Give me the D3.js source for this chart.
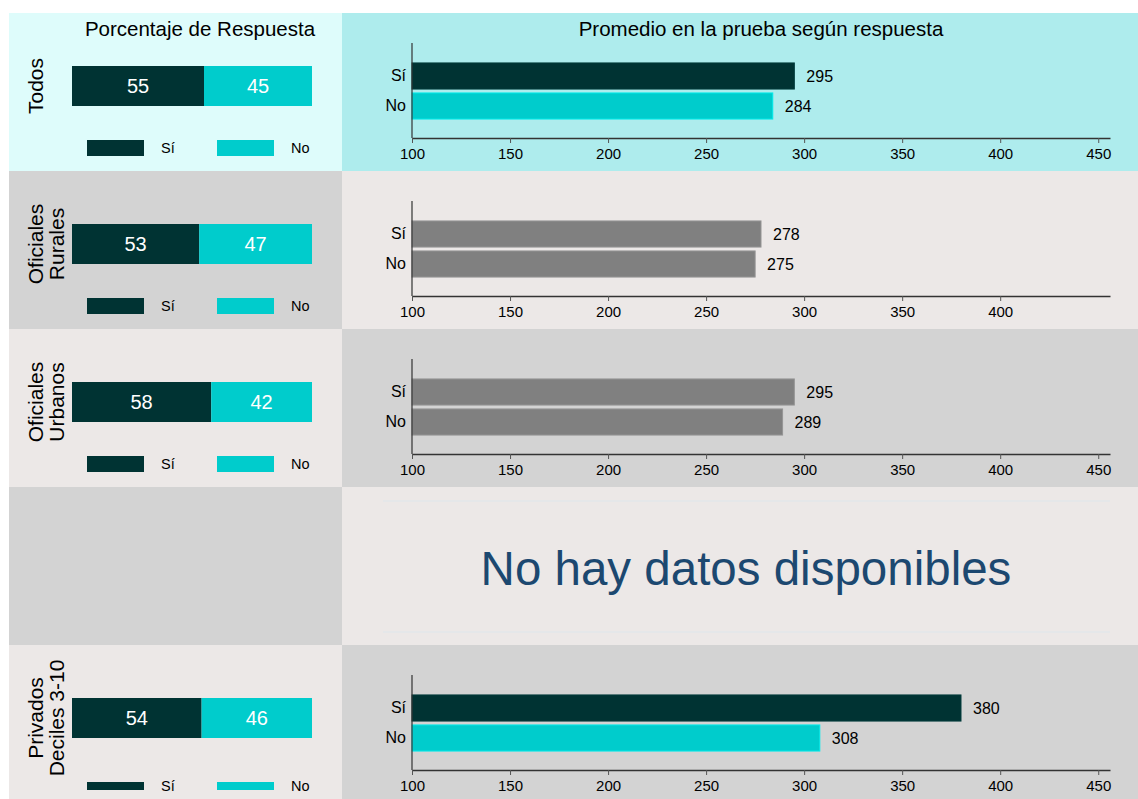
<!DOCTYPE html>
<html>
<head>
<meta charset="utf-8">
<script src="https://cdn.jsdelivr.net/npm/d3@7"></script>
<style>
  body { margin: 0; background: #fff; }
  text { font-family: "Liberation Sans", Arial, sans-serif; }
</style>
</head>
<body>
<script>
var w = 1138;
var h = 799;

// data
var groupLabels = [["Todos"], ["Oficiales", "Rurales"], ["Oficiales", "Urbanos"], [], ["Privados", "Deciles 3-10"]];
var responses = ["Sí", "No"];
var pctSi = [55, 53, 58, null, 54];
var pctNo = [45, 47, 42, null, 46];
var scoreSi = [295, 278, 295, null, 380];
var scoreNo = [284, 275, 289, null, 308];
var xTicks = [100, 150, 200, 250, 300, 350, 400, 450];
var lastTick = [450, 400, 450, null, 450];
var noDataText = "No hay datos disponibles";

// styles
var leftBg = ["#defcfb", "#d3d3d3", "#ece8e7", "#d3d3d3", "#ece8e7"];
var rightBg = ["#aeeced", "#ece8e7", "#d3d3d3", "#ece8e7", "#d3d3d3"];
var colored = [true, false, false, false, true];
var dark = "#003333", cyan = "#00cccc", gray = "#808080";

var rowTop = 13, rowH = 158, leftX = 9, splitX = 342;

var svg = d3.select("body").append("svg")
    .attr("width", w)
    .attr("height", h);

var xScale = d3.scaleLinear().domain([100, 456]).range([412, 1110]);
var pScale = d3.scaleLinear().domain([0, 100]).range([72, 312]);

groupLabels.forEach(function(lab, i) {
  var top = rowTop + i * rowH;
  var ph = Math.min(rowH, h - top);
  var g = svg.append("g").attr("transform", "translate(0," + top + ")");

  g.append("rect").attr("x", leftX).attr("y", 0).attr("width", splitX - leftX).attr("height", ph)
    .attr("fill", leftBg[i]);
  g.append("rect").attr("x", splitX).attr("y", 0).attr("width", w - splitX).attr("height", ph)
    .attr("fill", rightBg[i]);

  if (pctSi[i] == null) {
    g.append("line").attr("x1", 383).attr("x2", 1110).attr("y1", 14).attr("y2", 14)
      .attr("stroke", "#e3e7ea").attr("stroke-width", 1.5);
    g.append("line").attr("x1", 383).attr("x2", 1110).attr("y1", 145).attr("y2", 145)
      .attr("stroke", "#e3e7ea").attr("stroke-width", 1.5);
    g.append("text").attr("x", 746).attr("y", 81)
      .attr("text-anchor", "middle").attr("dominant-baseline", "central")
      .style("font-size", "47.5px").attr("fill", "#1c4870")
      .text(noDataText);
    return;
  }

  // left: stacked percentage bar
  var barY = 53, barH = 40;
  var segs = [
    { v0: 0, v1: pctSi[i], c: dark },
    { v0: pctSi[i], v1: pctSi[i] + pctNo[i], c: cyan }
  ];
  g.selectAll("rect.seg").data(segs).enter().append("rect")
    .attr("class", "seg")
    .attr("x", function(d) { return pScale(d.v0); })
    .attr("y", barY)
    .attr("width", function(d) { return pScale(d.v1) - pScale(d.v0); })
    .attr("height", barH)
    .attr("fill", function(d) { return d.c; });
  g.selectAll("text.seg").data(segs).enter().append("text")
    .attr("class", "seg")
    .attr("x", function(d) { return (pScale(d.v0) + pScale(d.v1)) / 2; })
    .attr("y", barY + barH / 2)
    .attr("text-anchor", "middle").attr("dominant-baseline", "central")
    .attr("fill", "#fff").style("font-size", "20px")
    .text(function(d) { return d.v1 - d.v0; });

  // row label
  var cy = barY + barH / 2;
  lab.forEach(function(line, k) {
    g.append("text")
      .attr("transform", "translate(" + (35 + k * 21) + "," + cy + ") rotate(-90)")
      .attr("text-anchor", "middle").attr("dominant-baseline", "central")
      .style("font-size", "21px").attr("fill", "#000")
      .text(line);
  });

  // legend
  var last = (i === groupLabels.length - 1);
  var ly = last ? 137 : 127, lh = last ? 8 : 16;
  [[dark, "Sí", 87, 161], [cyan, "No", 217, 291]].forEach(function(it) {
    g.append("rect").attr("x", it[2]).attr("y", ly).attr("width", 57).attr("height", lh).attr("fill", it[0]);
    g.append("text").attr("x", it[3]).attr("y", ly + lh / 2)
      .attr("dominant-baseline", "central").style("font-size", "14.5px").attr("fill", "#000")
      .text(it[1]);
  });

  // right: score bars
  var yScale = d3.scaleBand().domain(responses).range([48, 108]).paddingInner(0.13).paddingOuter(0.065);
  var vals = [scoreSi[i], scoreNo[i]];
  var cols = colored[i] ? [dark, cyan] : [gray, gray];
  var axisY = 125;

  g.selectAll("rect.score").data(vals).enter().append("rect")
    .attr("class", "score")
    .attr("x", xScale(100))
    .attr("y", function(d, j) { return yScale(responses[j]); })
    .attr("width", function(d) { return xScale(d) - xScale(100); })
    .attr("height", yScale.bandwidth())
    .attr("fill", function(d, j) { return cols[j]; })
    .attr("stroke", function(d, j) { return d3.color(cols[j]).brighter(0.4); })
    .attr("stroke-width", 1);
  g.selectAll("text.score").data(vals).enter().append("text")
    .attr("class", "score")
    .attr("x", function(d) { return xScale(d) + 12; })
    .attr("y", function(d, j) { return yScale(responses[j]) + yScale.bandwidth() / 2; })
    .attr("dominant-baseline", "central").style("font-size", "16px").attr("fill", "#000")
    .text(function(d) { return d; });

  var yAxis = d3.axisLeft(yScale).tickSize(0).tickPadding(6);
  var ya = g.append("g").attr("transform", "translate(" + xScale(100) + ",0)").call(yAxis);
  ya.select(".domain").remove();
  ya.selectAll("text").style("font-size", "16px").attr("fill", "#000")
    .style("font-family", "Liberation Sans, Arial, sans-serif");
  g.append("line").attr("x1", xScale(100)).attr("x2", xScale(100)).attr("y1", 30).attr("y2", axisY)
    .attr("stroke", "#333").attr("stroke-width", 1.2);

  var xAxis = d3.axisBottom(xScale)
    .tickValues(xTicks.filter(function(t) { return t <= lastTick[i]; }))
    .tickSize(5).tickSizeOuter(0).tickPadding(5);
  var xa = g.append("g").attr("transform", "translate(0," + axisY + ")").call(xAxis);
  xa.select(".domain").attr("stroke", "#333").attr("stroke-width", 1.5);
  xa.selectAll(".tick line").attr("stroke", "#555");
  xa.selectAll("text").style("font-size", "15px").attr("fill", "#000")
    .style("font-family", "Liberation Sans, Arial, sans-serif");
});

// headers
svg.append("text").attr("x", 200).attr("y", 28)
  .attr("text-anchor", "middle").attr("dominant-baseline", "central")
  .style("font-size", "20.5px").attr("fill", "#000")
  .text("Porcentaje de Respuesta");
svg.append("text").attr("x", 761).attr("y", 28)
  .attr("text-anchor", "middle").attr("dominant-baseline", "central")
  .style("font-size", "20.5px").attr("fill", "#000")
  .text("Promedio en la prueba según respuesta");
</script>
</body>
</html>
